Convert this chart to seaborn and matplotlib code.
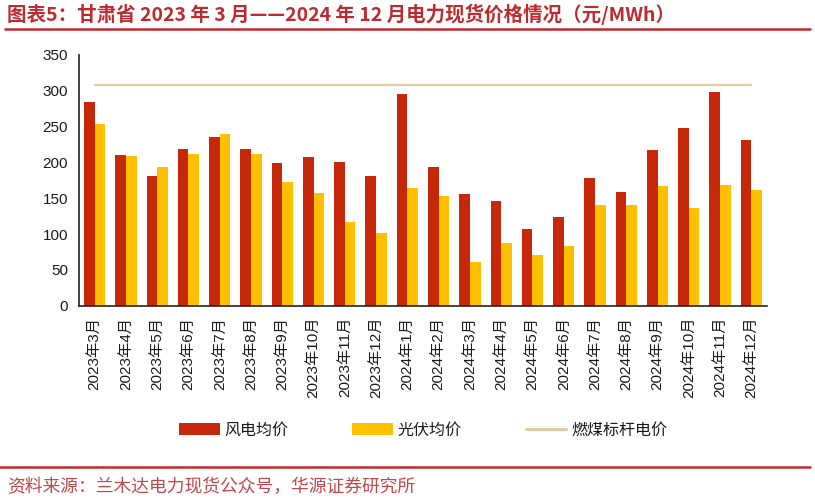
import numpy as np
import pandas as pd
import matplotlib
matplotlib.use("Agg")
import matplotlib.pyplot as plt
from matplotlib.patches import Patch
from matplotlib.lines import Line2D
import seaborn as sns

months = ["2023年3月", "2023年4月", "2023年5月", "2023年6月", "2023年7月", "2023年8月",
          "2023年9月", "2023年10月", "2023年11月", "2023年12月", "2024年1月", "2024年2月",
          "2024年3月", "2024年4月", "2024年5月", "2024年6月", "2024年7月", "2024年8月",
          "2024年9月", "2024年10月", "2024年11月", "2024年12月"]
wind_avg = [285, 211, 181, 219, 235, 219, 199, 207, 201, 181, 296, 194,
            156, 146, 107, 124, 178, 159, 217, 248, 298, 232]
solar_avg = [253, 209, 194, 212, 240, 212, 173, 158, 117, 102, 164, 153,
             61, 87, 71, 84, 141, 140, 167, 137, 168, 162]
coal_benchmark = 307.8
series_names = ["风电均价", "光伏均价", "燃煤标杆电价"]
y_ticks = [0, 50, 100, 150, 200, 250, 300, 350]

title = "图表5：甘肃省 2023 年 3 月——2024 年 12 月电力现货价格情况（元/MWh）"
source = "资料来源：兰木达电力现货公众号，华源证券研究所"

WIND_C = "#C8280A"
SOLAR_C = "#FFC000"
COAL_C = "#E2CBA8"
RED = "#BE2A2E"

sns.set_style("white")
plt.rcParams["font.family"] = ["Liberation Sans", "Noto Sans CJK SC", "DejaVu Sans"]

df = pd.DataFrame({
    "month": months * 2,
    "series": [series_names[0]] * len(months) + [series_names[1]] * len(months),
    "value": wind_avg + solar_avg,
})

fig = plt.figure(figsize=(8.15, 5.01), dpi=100)
ax = fig.add_axes([79 / 815, 1 - 305.7 / 501, (767 - 79) / 815, (305.7 - 55) / 501])

sns.barplot(data=df, x="month", y="value", hue="series", order=months,
            hue_order=series_names[:2], palette=[WIND_C, SOLAR_C],
            width=0.68, dodge=True, gap=0, saturation=1, ax=ax, legend=False,
            linewidth=0, errorbar=None)

n = len(months)
pos = np.arange(n)
ax.plot(pos, [coal_benchmark] * n, color=COAL_C, lw=1.6, zorder=3)

ax.set_xlim(-0.5, n - 0.5)
ax.set_ylim(0, 350)
ax.set_yticks(y_ticks)
ax.set_xlabel("")
ax.set_ylabel("")

# ticks at category boundaries, labels at centers
ax.set_xticks(np.arange(-0.5, n, 1.0))
ax.set_xticklabels([])
ax.set_xticks(pos, minor=True)
ax.set_xticklabels(months, minor=True, rotation=90, fontsize=11, color="#1a1a1a",
                   va="top", ha="center")
ax.tick_params(axis="x", which="major", direction="out", length=6, width=1, color="#222222")
ax.tick_params(axis="x", which="minor", length=0, pad=8)
ax.tick_params(axis="y", direction="out", length=6, width=1, color="#222222",
               labelsize=11, labelcolor="#1a1a1a", pad=2)

for s in ["top", "right"]:
    ax.spines[s].set_visible(False)
for s in ["left", "bottom"]:
    ax.spines[s].set_color("#222222")
    ax.spines[s].set_linewidth(1.2)

handles = [Patch(facecolor=WIND_C, edgecolor="none"),
           Patch(facecolor=SOLAR_C, edgecolor="none"),
           Line2D([0], [0], color=COAL_C, lw=2.2)]
fig.legend(handles, series_names, loc="center", bbox_to_anchor=(423 / 815, 1 - 430 / 501),
           ncol=3, frameon=False, fontsize=11.5, handlelength=2.55, handletextpad=0.3,
           columnspacing=4.0, labelcolor="#1a1a1a")

# title and rules
fig.text(7 / 815, 1 - 14 / 501, title, fontsize=14, fontweight="bold", color=RED,
         ha="left", va="center", family=["Noto Sans CJK SC", "DejaVu Sans"])
fig.add_artist(Line2D([5 / 815, 810 / 815], [1 - 29 / 501, 1 - 29 / 501],
                      color=RED, lw=1.8, transform=fig.transFigure))
fig.add_artist(Line2D([0 / 815, 810 / 815], [1 - 467 / 501, 1 - 467 / 501],
                      color=RED, lw=1.8, transform=fig.transFigure))
fig.text(7 / 815, 1 - 487 / 501, source, fontsize=12.8, color="#C0474A",
         ha="left", va="center", family=["Noto Sans CJK SC", "DejaVu Sans"])

fig.savefig("out.png", dpi=100)
